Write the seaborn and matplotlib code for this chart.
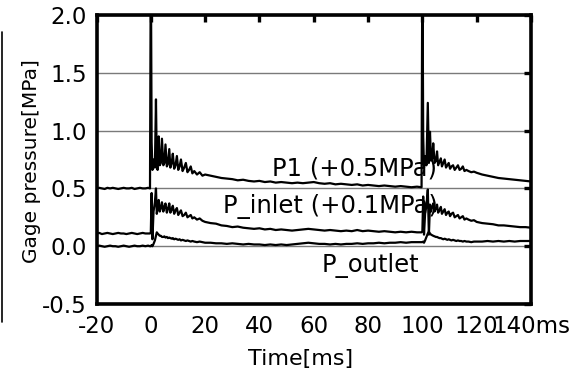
import matplotlib
matplotlib.use("Agg")
import matplotlib.pyplot as plt
from matplotlib.lines import Line2D
import numpy as np
import pandas as pd
import seaborn as sns

# ---------------- data ----------------
time_ms = [
    # before first event
    -20, -19, -18, -17, -16, -15, -14, -13, -12, -11,
    -10, -9, -8, -7, -6, -5, -4, -3, -2, -1,
    # first event
    -0.3, 0.0, 0.3, 0.6, 1.0, 1.5, 1.9, 2.2, 2.5, 2.9,
    3.3, 3.7, 4.1, 4.6, 5.0, 5.4, 5.9, 6.3, 6.8, 7.2,
    7.7, 8.1, 8.6, 9.1, 9.6, 10.1, 10.6, 11.1, 11.7, 12.3,
    12.9, 13.5, 14.1, 14.7, 15.3, 16.0, 17.0, 18.0, 19.0, 20.0,
    # decay
    22, 24, 26, 28, 30, 32, 34, 36, 38, 40,
    42, 44, 46, 48, 50, 52, 54, 56, 58, 60,
    62, 64, 66, 68, 70, 72, 74, 76, 78, 80,
    82, 84, 86, 88, 90, 92, 94, 96, 98,
    # second event
    99.7, 100.0, 100.3, 100.6, 101.0, 101.5, 102.0, 102.4, 102.8, 103.2,
    103.6, 104.0, 104.5, 105.0, 105.4, 105.8, 106.3, 106.8, 107.2, 107.7,
    108.2, 108.7, 109.2, 109.7, 110.2, 110.7, 111.3, 111.9, 112.5, 113.1,
    113.7, 114.3, 114.9, 115.5, 116.2, 117.0, 118.0, 119.0, 120.0,
    # tail
    122, 124, 126, 128, 130, 132, 134, 136, 138, 140,
]

p1 = [
    0.50, 0.505, 0.50, 0.495, 0.505, 0.50, 0.505, 0.50, 0.495, 0.50,
    0.505, 0.50, 0.50, 0.505, 0.495, 0.50, 0.505, 0.50, 0.50, 0.505,
    0.50, 2.60, 0.90, 0.66, 0.75, 0.68, 1.27, 0.70, 0.66, 0.95,
    0.70, 0.72, 0.93, 0.70, 0.72, 0.88, 0.69, 0.71, 0.84, 0.68,
    0.72, 0.80, 0.67, 0.70, 0.78, 0.66, 0.69, 0.75, 0.65, 0.68,
    0.72, 0.64, 0.66, 0.69, 0.63, 0.65, 0.62, 0.64, 0.61, 0.62,
    0.61, 0.60, 0.59, 0.585, 0.58, 0.57, 0.575, 0.565, 0.56, 0.565,
    0.555, 0.56, 0.55, 0.555, 0.55, 0.545, 0.55, 0.545, 0.55, 0.555,
    0.545, 0.54, 0.545, 0.535, 0.54, 0.535, 0.53, 0.535, 0.525, 0.53,
    0.525, 0.52, 0.525, 0.52, 0.515, 0.52, 0.515, 0.51, 0.515,
    0.51, 2.60, 0.95, 0.68, 0.78, 0.70, 1.24, 0.72, 0.99, 0.74,
    0.76, 0.89, 0.72, 0.74, 0.82, 0.70, 0.73, 0.76, 0.69, 0.72,
    0.75, 0.68, 0.70, 0.72, 0.67, 0.69, 0.70, 0.66, 0.68, 0.70,
    0.66, 0.67, 0.69, 0.65, 0.66, 0.65, 0.64, 0.645, 0.635,
    0.62, 0.61, 0.60, 0.59, 0.585, 0.58, 0.575, 0.57, 0.565, 0.56,
]

p_inlet = [
    0.11, 0.115, 0.105, 0.11, 0.115, 0.11, 0.105, 0.11, 0.115, 0.11,
    0.11, 0.105, 0.11, 0.115, 0.11, 0.105, 0.11, 0.115, 0.11, 0.11,
    0.11, 0.12, 0.46, 0.06, 0.30, 0.38, 0.50, 0.28, 0.32, 0.40,
    0.30, 0.33, 0.38, 0.30, 0.34, 0.37, 0.29, 0.32, 0.37, 0.29,
    0.32, 0.35, 0.28, 0.31, 0.33, 0.27, 0.29, 0.31, 0.26, 0.27,
    0.29, 0.25, 0.26, 0.27, 0.24, 0.25, 0.23, 0.24, 0.22, 0.21,
    0.20, 0.195, 0.18, 0.175, 0.165, 0.17, 0.16, 0.155, 0.15, 0.155,
    0.145, 0.15, 0.14, 0.145, 0.14, 0.135, 0.14, 0.145, 0.15, 0.145,
    0.14, 0.135, 0.14, 0.135, 0.13, 0.135, 0.13, 0.14, 0.13, 0.135,
    0.13, 0.125, 0.13, 0.125, 0.12, 0.125, 0.12, 0.125, 0.12,
    0.12, 0.13, 0.43, 0.10, 0.28, 0.35, 0.49, 0.10, 0.36, 0.30,
    0.34, 0.37, 0.30, 0.33, 0.36, 0.29, 0.31, 0.34, 0.28, 0.30,
    0.32, 0.27, 0.29, 0.30, 0.26, 0.28, 0.29, 0.25, 0.26, 0.27,
    0.24, 0.25, 0.26, 0.23, 0.24, 0.23, 0.22, 0.225, 0.21,
    0.20, 0.195, 0.19, 0.18, 0.18, 0.175, 0.17, 0.165, 0.165, 0.16,
]

p_outlet = [
    0.0, 0.005, 0.0, -0.005, 0.0, 0.005, 0.0, 0.0, -0.005, 0.0,
    0.005, 0.0, -0.005, 0.0, 0.005, 0.0, 0.0, 0.005, 0.0, 0.005,
    0.00, 0.00, 0.01, 0.00, 0.02, 0.05, 0.09, 0.12, 0.11, 0.10,
    0.09, 0.09, 0.08, 0.08, 0.085, 0.075, 0.08, 0.07, 0.075, 0.07,
    0.065, 0.07, 0.06, 0.065, 0.06, 0.055, 0.06, 0.05, 0.055, 0.05,
    0.045, 0.05, 0.045, 0.04, 0.045, 0.04, 0.035, 0.04, 0.035, 0.03,
    0.03, 0.025, 0.025, 0.02, 0.025, 0.02, 0.015, 0.02, 0.015, 0.015,
    0.01, 0.015, 0.01, 0.015, 0.01, 0.015, 0.02, 0.025, 0.03, 0.025,
    0.02, 0.02, 0.015, 0.02, 0.015, 0.02, 0.02, 0.025, 0.02, 0.025,
    0.025, 0.03, 0.025, 0.03, 0.03, 0.035, 0.03, 0.035, 0.035,
    0.035, 0.035, 0.04, 0.03, 0.05, 0.08, 0.11, 0.125, 0.11, 0.10,
    0.095, 0.09, 0.085, 0.08, 0.08, 0.075, 0.07, 0.07, 0.065, 0.06,
    0.065, 0.06, 0.055, 0.06, 0.055, 0.05, 0.055, 0.05, 0.045, 0.05,
    0.045, 0.045, 0.04, 0.045, 0.04, 0.04, 0.035, 0.04, 0.04,
    0.04, 0.045, 0.04, 0.045, 0.04, 0.045, 0.04, 0.045, 0.045, 0.045,
]

series_names = ["P1", "P_inlet", "P_outlet"]
series_labels = ["P1 (+0.5MPa)", "P_inlet (+0.1MPa)", "P_outlet"]
x_ticks = [-20, 0, 20, 40, 60, 80, 100, 120, 140]
x_tick_labels = ["-20", "0", "20", "40", "60", "80", "100", "120", "140ms"]
y_ticks = [-0.5, 0.0, 0.5, 1.0, 1.5, 2.0]
y_tick_labels = ["-0.5", "0.0", "0.5", "1.0", "1.5", "2.0"]

# ---------------- figure ----------------
sns.set_style("white")
plt.rcParams["font.family"] = ["DejaVu Sans"]
plt.rcParams["text.color"] = "black"
plt.rcParams["axes.labelcolor"] = "black"

frames = []
for name, vals in zip(series_names, [p1, p_inlet, p_outlet]):
    frames.append(pd.DataFrame({"Time": time_ms, "P": vals, "series": name}))
df = pd.concat(frames, ignore_index=True)

fig = plt.figure(figsize=(5.79, 3.78), dpi=100)
ax = fig.add_axes([96.5 / 579, 1 - 304 / 378, (531 - 96.5) / 579, (304 - 15) / 378])

sns.lineplot(data=df, x="Time", y="P", hue="series",
             palette={n: "black" for n in series_names},
             estimator=None, sort=False, legend=False, lw=1.6, ax=ax, zorder=3)

ax.set_xlim(-20, 140)
ax.set_ylim(-0.5, 2.0)
ax.set_xticks(x_ticks)
ax.set_xticklabels(x_tick_labels, fontsize=16.5)
ax.set_yticks(y_ticks)
ax.set_yticklabels(y_tick_labels, fontsize=16.5)

ax.yaxis.grid(True, color="#7a7a7a", lw=1.0)
ax.xaxis.grid(False)
ax.set_axisbelow(True)

for sp in ax.spines.values():
    sp.set_visible(True)
    sp.set_linewidth(2.6)
    sp.set_color("black")
    sp.set_zorder(5)

ax.tick_params(axis="both", which="major", direction="in", length=5, width=2.4,
               top=True, right=True, labeltop=False, labelright=False,
               colors="black")
ax.tick_params(axis="x", pad=8)
ax.tick_params(axis="y", pad=7)

ax.set_xlabel("Time[ms]", fontsize=16)
ax.set_ylabel("Gage pressure[MPa]", fontsize=14.5)
ax.xaxis.set_label_coords(0.47, -0.155)
ax.yaxis.set_label_coords(-0.128, 0.495)

# curve labels
label_pos = [(44.6, 0.615), (26.5, 0.286), (62.9, -0.222)]
for txt, (lx, ly) in zip(series_labels, label_pos):
    ax.text(lx, ly, txt, fontsize=17.5, ha="left", va="baseline", zorder=2,
            color="black")

# thin vertical line at far left of the image
fig.add_artist(Line2D([2.2 / 579, 2.2 / 579], [1 - 32 / 378, 1 - 322 / 378],
                      color="black", lw=1.2))

fig.savefig("out.png", dpi=100)
